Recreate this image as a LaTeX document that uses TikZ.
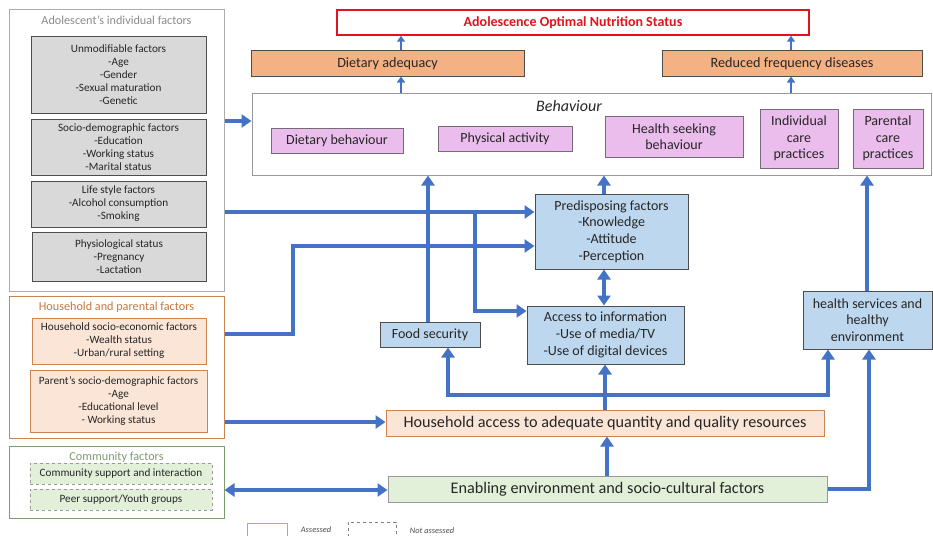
\documentclass[tikz,border=0pt]{standalone}
\usepackage{fontspec}
\setmainfont{Carlito}
\usetikzlibrary{arrows.meta}
\definecolor{ablue}{HTML}{4472C4}
\definecolor{grayfill}{HTML}{D9D9D9}
\definecolor{darkline}{HTML}{4D4D4D}
\definecolor{peach}{HTML}{FBE5D6}
\definecolor{orline}{HTML}{C98451}
\definecolor{ortext}{HTML}{C8763C}
\definecolor{orfill}{HTML}{F4B183}
\definecolor{lgreen}{HTML}{E2F0D9}
\definecolor{grline}{HTML}{7D9C6E}
\definecolor{grtext}{HTML}{7F9A70}
\definecolor{pinkfill}{HTML}{EBBDEC}
\definecolor{pinkline}{HTML}{766A78}
\definecolor{lblue}{HTML}{BDD7EE}
\definecolor{redline}{HTML}{E0141E}
\definecolor{legline}{HTML}{8FAADC}
\definecolor{txt}{HTML}{262626}
\tikzset{
  bx/.style={draw=darkline, line width=1pt, inner sep=0pt, align=center, text=txt},
  outer/.style={draw, line width=1pt, fill=white, inner sep=0pt},
  gbox/.style={bx, fill=grayfill, font=\fontsize{11.2}{13}\selectfont},
  obox/.style={bx, draw=orline, fill=peach, font=\fontsize{11.2}{13}\selectfont},
  cbox/.style={bx, draw=gray!80, dashed, fill=lgreen, font=\fontsize{11.2}{13}\selectfont},
  pbox/.style={bx, draw=pinkline, fill=pinkfill, font=\fontsize{14}{16.5}\selectfont},
  lbbox/.style={bx, fill=lblue, font=\fontsize{14}{16.7}\selectfont},
  arr/.style={draw=ablue, line width=4pt, -{Triangle[width=13pt,length=10pt]}},
  darr/.style={draw=ablue, line width=4pt, {Triangle[width=13pt,length=10pt]}-{Triangle[width=13pt,length=10pt]}},
  tarr/.style={draw=ablue, line width=2pt, -{Triangle[width=8pt,length=6pt]}},
}
\begin{document}
\begin{tikzpicture}[x=1pt,y=-1pt]
\useasboundingbox[fill=white] (0,0) rectangle (933,535);

% left column: adolescent
\node[outer, draw=gray!65, minimum width=215pt, minimum height=281pt] (outA) at (116.5,150.5) {};
\node[text=gray!90, font=\fontsize{12.2}{14}\selectfont] (tA) at (116.5,20) {Adolescent’s individual factors};
\node[gbox, minimum width=175pt, minimum height=76pt] (u1) at (118.5,75) {Unmodifiable factors\\-Age\\-Gender\\-Sexual maturation\\-Genetic};
\node[gbox, minimum width=175pt, minimum height=56pt] (u2) at (118.5,147) {Socio-demographic factors\\-Education\\-Working status\\-Marital status};
\node[gbox, minimum width=175pt, minimum height=46pt] (u3) at (118.5,204) {Life style factors\\-Alcohol consumption\\-Smoking};
\node[gbox, minimum width=174pt, minimum height=49pt] (u4) at (119,256.5) {Physiological status\\-Pregnancy\\-Lactation};

% household
\node[outer, draw=orline, minimum width=215pt, minimum height=142pt] (outH) at (116.5,367) {};
\node[text=ortext, font=\fontsize{12.2}{14}\selectfont] (tH) at (116.5,307) {Household and parental factors};
\node[obox, minimum width=174pt, minimum height=46pt] (h1) at (119,341) {Household socio-economic factors\\-Wealth status\\-Urban/rural setting};
\node[obox, minimum width=177pt, minimum height=62pt] (h2) at (118.5,401) {Parent’s socio-demographic factors\\-Age\\-Educational level\\- Working status};

% community
\node[outer, draw=grline, minimum width=215pt, minimum height=72pt] (outC) at (116.5,482) {};
\node[text=grtext, font=\fontsize{12.2}{14}\selectfont] (tC) at (116.5,457) {Community factors};
\node[cbox, minimum width=182pt, minimum height=21pt] (c1) at (121,473.5) {Community support and interaction};
\node[cbox, minimum width=182pt, minimum height=21pt] (c2) at (121,499.5) {Peer support/Youth groups};

% top
\node[bx, draw=redline, fill=white, line width=1.5pt, minimum width=472pt, minimum height=25pt, text=redline, font=\bfseries\fontsize{14}{16}\selectfont] (title) at (573,22.5) {Adolescence Optimal Nutrition Status};
\node[bx, fill=orfill, minimum width=273pt, minimum height=25pt, font=\fontsize{14.2}{16}\selectfont] (da) at (387.5,63.5) {Dietary adequacy};
\node[bx, fill=orfill, minimum width=260pt, minimum height=25pt, font=\fontsize{14.2}{16}\selectfont] (rf) at (792,63.5) {Reduced frequency diseases};

% behaviour
\node[bx, draw=gray!80, fill=white, minimum width=679pt, minimum height=82pt] (beh) at (591.5,134) {};
\node[font=\itshape\fontsize{16}{18}\selectfont, text=txt] (behT) at (569,106) {Behaviour};
\node[pbox, minimum width=132pt, minimum height=25pt] (p1) at (337,140.5) {Dietary behaviour};
\node[pbox, minimum width=134pt, minimum height=25pt] (p2) at (505,138.5) {Physical activity};
\node[pbox, minimum width=138pt, minimum height=41pt] (p3) at (674,136.5) {Health seeking\\behaviour};
\node[pbox, minimum width=78pt, minimum height=59pt] (p4) at (799,138.5) {Individual\\care\\practices};
\node[pbox, minimum width=70pt, minimum height=59pt] (p5) at (888,138.5) {Parental\\care\\practices};

% middle
\node[lbbox, minimum width=153pt, minimum height=75pt] (pre) at (611.5,231.5) {Predisposing factors\\-Knowledge\\-Attitude\\-Perception};
\node[lbbox, minimum width=157pt, minimum height=58pt] (acc) at (605.5,335) {Access to information\\-Use of media/TV\\-Use of digital devices};
\node[lbbox, minimum width=100pt, minimum height=25pt] (fs) at (430,334.5) {Food security};
\node[lbbox, minimum width=129pt, minimum height=58pt] (hs) at (867.5,320) {health services and\\healthy\\environment};

% bottom
\node[bx, draw=orline, fill=peach, minimum width=438pt, minimum height=26pt, font=\fontsize{16.2}{18}\selectfont] (hha) at (605,423) {Household access to adequate quantity and quality resources};
\node[bx, draw=gray!80, fill=lgreen, minimum width=439pt, minimum height=26pt, font=\fontsize{16.2}{18}\selectfont] (env) at (607.5,489) {Enabling environment and socio-cultural factors};

% legend
\node[draw=legline, line width=1pt, minimum width=40pt, minimum height=18pt, inner sep=0pt] (legA) at (267,532) {};
\node[font=\itshape\fontsize{8.4}{9}\selectfont, text=darkline] (legAt) at (316,530) {Assessed};
\node[draw=gray, dashed, line width=0.8pt, minimum width=48pt, minimum height=18pt, inner sep=0pt] (legN) at (372,531) {};
\node[font=\itshape\fontsize{8.4}{9}\selectfont, text=darkline] (legNt) at (432,531) {Not assessed};

% arrows top
\draw[tarr] (da.north -| 401,0) -- (title.south -| 401,0);
\draw[tarr] (rf.north -| 791,0) -- (title.south -| 791,0);
\draw[tarr] (beh.north -| 401,0) -- (da.south -| 401,0);
\draw[tarr] (beh.north -| 791,0) -- (rf.south -| 791,0);

% arrows into behaviour
\draw[arr] (outA.east |- 0,121) -- (beh.west |- 0,121);
\draw[arr] (fs.north -| 428,0) -- (beh.south -| 428,0);
\draw[arr] (pre.north -| 604,0) -- (beh.south -| 604,0);
\draw[arr] (hs.north -| 867,0) -- (beh.south -| 867,0);

% left to predisposing / access
\coordinate (br) at (475,212);
\draw[arr] (outA.east |- 0,212) -- (pre.west |- 0,212);
\draw[arr] (br) |- (acc.west |- 0,311);
\draw[arr] (outH.east |- 0,334) -- (293,334) -- (293,246) -- (pre.west |- 0,246);
\draw[darr] (pre.south -| 604,0) -- (acc.north -| 604,0);

% household access
\draw[arr] (outH.east |- 0,422) -- (hha.west |- 0,422);
\coordinate (sp) at (605,395);
\draw[arr] (hha.north -| 605,0) -- (acc.south -| 605,0);
\draw[arr] (sp) -| (fs.south -| 448,0);
\draw[arr] (sp) -| (hs.south -| 828,0);

% enabling
\draw[arr] (env.north -| 607,0) -- (hha.south -| 607,0);
\draw[arr] (env.east) -| (hs.south -| 869,0);
\draw[darr] (outC.east |- 0,490) -- (env.west |- 0,490);
\end{tikzpicture}
\end{document}
